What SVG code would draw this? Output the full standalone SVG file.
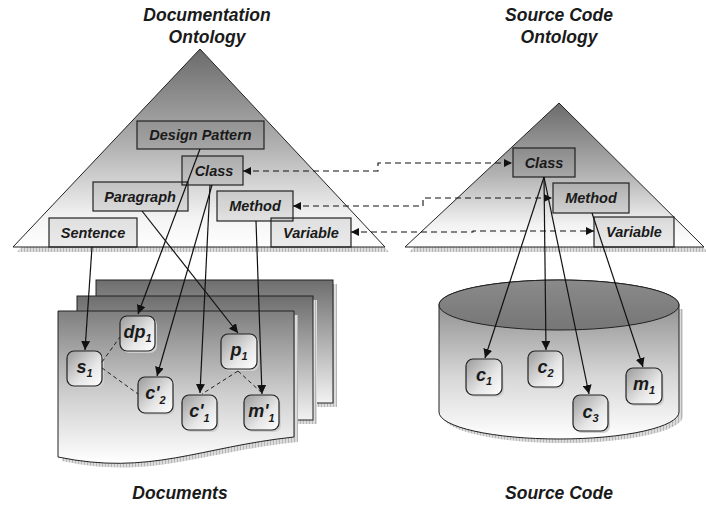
<svg xmlns="http://www.w3.org/2000/svg" width="706" height="505" viewBox="0 0 706 505">
<defs>
  <linearGradient id="triGrad" x1="0" y1="0" x2="0" y2="1">
    <stop offset="0" stop-color="#6b6b6b"/>
    <stop offset="0.5" stop-color="#b3b3b3"/>
    <stop offset="0.85" stop-color="#f3f3f3"/>
    <stop offset="1" stop-color="#ffffff"/>
  </linearGradient>
  <linearGradient id="pageGrad" x1="0" y1="0" x2="0" y2="1">
    <stop offset="0" stop-color="#6e6e6e"/>
    <stop offset="1" stop-color="#f2f2f2"/>
  </linearGradient>
  <linearGradient id="frontGrad" x1="0" y1="0" x2="0" y2="1">
    <stop offset="0" stop-color="#7f7f7f"/>
    <stop offset="0.55" stop-color="#cfcfcf"/>
    <stop offset="1" stop-color="#ffffff"/>
  </linearGradient>
  <linearGradient id="cylGrad" x1="0" y1="0" x2="0" y2="1">
    <stop offset="0" stop-color="#7a7a7a"/>
    <stop offset="0.6" stop-color="#d6d6d6"/>
    <stop offset="1" stop-color="#ffffff"/>
  </linearGradient>
  <linearGradient id="topGrad" x1="0" y1="0" x2="0" y2="1">
    <stop offset="0" stop-color="#8a8a8a"/>
    <stop offset="1" stop-color="#767676"/>
  </linearGradient>
  <linearGradient id="nodeGrad" x1="0" y1="0" x2="1" y2="1">
    <stop offset="0" stop-color="#9a9a9a"/>
    <stop offset="0.6" stop-color="#e6e6e6"/>
    <stop offset="1" stop-color="#ffffff"/>
  </linearGradient>
  <pattern id="hatch" width="3" height="3" patternUnits="userSpaceOnUse">
    <rect width="3" height="3" fill="#dcdcdc"/>
    <line x1="0.5" y1="0" x2="0.5" y2="3" stroke="#b5b5b5" stroke-width="1"/>
  </pattern>
  <marker id="arr" viewBox="0 0 10 10" refX="10" refY="5" markerWidth="9" markerHeight="9" markerUnits="userSpaceOnUse" orient="auto-start-reverse">
    <path d="M0,0 L10,5 L0,10 Z" fill="#111"/>
  </marker>
  <marker id="arrS" viewBox="0 0 10 10" refX="10" refY="5" markerWidth="8" markerHeight="8" markerUnits="userSpaceOnUse" orient="auto-start-reverse">
    <path d="M0,0 L10,5 L0,10 Z" fill="#111"/>
  </marker>
</defs>
<style>
  .tri { fill: url(#triGrad); stroke: #222; stroke-width: 1; }
  .shadow { fill: url(#hatch); stroke: none; }
  .box { fill: #000; fill-opacity: 0.08; stroke: #222; stroke-width: 1.2; }
  .lbl { font-family: "Liberation Sans", Arial, sans-serif; font-weight: bold; font-style: italic; font-size: 14.5px; fill: #1a1a1a; text-anchor: middle; }
  .title { font-family: "Liberation Sans", Arial, sans-serif; font-weight: bold; font-style: italic; font-size: 17.5px; fill: #1a1a1a; text-anchor: middle; }
  .node { fill: url(#nodeGrad); stroke: #222; stroke-width: 1.2; }
  .nshadow { fill: #cfcfcf; }
  .nlbl { font-family: "Liberation Sans", Arial, sans-serif; font-weight: bold; font-style: italic; font-size: 18px; fill: #1a1a1a; text-anchor: middle; }
  .sub { font-size: 11px; }
  .page { stroke: #222; stroke-width: 1; }
  .solid { fill: none; stroke: #111; stroke-width: 1.2; marker-end: url(#arr); }
  .dash2 { fill: none; stroke: #111; stroke-width: 1.1; stroke-dasharray: 6 4; marker-start: url(#arrS); marker-end: url(#arrS); }
  .link { fill: none; stroke: #222; stroke-width: 1; stroke-dasharray: 4 3; }
</style>

<!-- Titles -->
<g id="titles">
  <text class="title" x="207" y="21">Documentation</text>
  <text class="title" x="207" y="43">Ontology</text>
  <text class="title" x="559" y="21">Source Code</text>
  <text class="title" x="559" y="43">Ontology</text>
  <text class="title" x="180" y="499">Documents</text>
  <text class="title" x="559" y="499">Source Code</text>
</g>

<!-- Documentation ontology -->
<g id="doc-ontology">
  <polygon class="shadow" points="204,54 17,252 389,252"/>
  <polygon class="tri" points="200,49 13,247 385,247"/>
  <g id="doc-designpattern"><rect class="box" x="137" y="121" width="127" height="28"/><text class="lbl" x="200.5" y="140">Design Pattern</text></g>
  <g id="doc-class"><rect class="box" x="182" y="156" width="61" height="29"/><text class="lbl" x="214" y="176">Class</text></g>
  <g id="doc-paragraph"><rect class="box" x="93" y="182" width="95" height="29"/><text class="lbl" x="140" y="202">Paragraph</text></g>
  <g id="doc-method"><rect class="box" x="217" y="191" width="76" height="30"/><text class="lbl" x="255" y="211">Method</text></g>
  <g id="doc-sentence"><rect class="box" x="49" y="218" width="88" height="29"/><text class="lbl" x="93" y="238">Sentence</text></g>
  <g id="doc-variable"><rect class="box" x="271" y="218" width="80" height="29"/><text class="lbl" x="311" y="238">Variable</text></g>
</g>

<!-- Source code ontology -->
<g id="src-ontology">
  <polygon class="shadow" points="563,108 409,252 708,252"/>
  <polygon class="tri" points="559,103 405,247 704,247"/>
  <g id="src-class"><rect class="box" x="513" y="148" width="62" height="29"/><text class="lbl" x="544" y="168">Class</text></g>
  <g id="src-method"><rect class="box" x="553" y="183" width="76" height="30"/><text class="lbl" x="591" y="203">Method</text></g>
  <g id="src-variable"><rect class="box" x="594" y="217" width="80" height="30"/><text class="lbl" x="634" y="237">Variable</text></g>
</g>

<!-- Documents -->
<g id="documents">
  <rect class="shadow" x="100" y="284" width="237" height="123"/>
  <rect class="page" x="96" y="280" width="237" height="123" fill="url(#pageGrad)"/>
  <rect class="shadow" x="81" y="300" width="236" height="124"/>
  <rect class="page" x="77" y="296" width="236" height="124" fill="url(#pageGrad)"/>
  <path class="shadow" d="M62,315 H298 V442 C200,452 150,480 62,461 Z"/>
  <path class="page" fill="url(#frontGrad)" d="M58,311 H294 V437 C200,447 150,476 58,457 Z"/>
</g>

<!-- Source code cylinder -->
<g id="source-code">
  <path class="shadow" d="M443,309 V416 A120,27 0 0 0 683,416 V309 Z"/>
  <path class="page" fill="url(#cylGrad)" d="M439,305 V412 A120,27 0 0 0 679,412 V305 A120,25 0 0 0 439,305 Z"/>
  <ellipse class="page" cx="559" cy="305" rx="120" ry="25" fill="url(#topGrad)"/>
</g>

<!-- Instance nodes -->
<g id="node-dp1"><rect class="nshadow" x="122" y="318" width="35" height="35" rx="7"/><rect class="node" x="120" y="316" width="35" height="35" rx="7"/><text class="nlbl" x="137.5" y="338">dp<tspan class="sub" dy="4">1</tspan></text></g>
<g id="node-s1"><rect class="nshadow" x="69" y="353" width="35" height="35" rx="7"/><rect class="node" x="67" y="351" width="35" height="35" rx="7"/><text class="nlbl" x="84.5" y="373">s<tspan class="sub" dy="4">1</tspan></text></g>
<g id="node-p1"><rect class="nshadow" x="223" y="336" width="36" height="35" rx="7"/><rect class="node" x="221" y="334" width="36" height="35" rx="7"/><text class="nlbl" x="239" y="356">p<tspan class="sub" dy="4">1</tspan></text></g>
<g id="node-c2p"><rect class="nshadow" x="140" y="379" width="35" height="36" rx="7"/><rect class="node" x="138" y="377" width="35" height="36" rx="7"/><text class="nlbl" x="155.5" y="399">c'<tspan class="sub" dy="5">2</tspan></text></g>
<g id="node-c1p"><rect class="nshadow" x="184" y="397" width="35" height="35" rx="7"/><rect class="node" x="182" y="395" width="35" height="35" rx="7"/><text class="nlbl" x="199.5" y="417">c'<tspan class="sub" dy="5">1</tspan></text></g>
<g id="node-m1p"><rect class="nshadow" x="246" y="397" width="35" height="35" rx="7"/><rect class="node" x="244" y="395" width="35" height="35" rx="7"/><text class="nlbl" x="261.5" y="417">m'<tspan class="sub" dy="5">1</tspan></text></g>
<g id="node-c1"><rect class="nshadow" x="468" y="361" width="36" height="36" rx="7"/><rect class="node" x="466" y="359" width="36" height="36" rx="7"/><text class="nlbl" x="484" y="381">c<tspan class="sub" dy="4">1</tspan></text></g>
<g id="node-c2"><rect class="nshadow" x="530" y="353" width="35" height="36" rx="7"/><rect class="node" x="528" y="351" width="35" height="36" rx="7"/><text class="nlbl" x="545.5" y="373">c<tspan class="sub" dy="4">2</tspan></text></g>
<g id="node-c3"><rect class="nshadow" x="575" y="397" width="35" height="36" rx="7"/><rect class="node" x="573" y="395" width="35" height="36" rx="7"/><text class="nlbl" x="590.5" y="418">c<tspan class="sub" dy="4">3</tspan></text></g>
<g id="node-m1"><rect class="nshadow" x="628" y="370" width="36" height="36" rx="7"/><rect class="node" x="626" y="368" width="36" height="36" rx="7"/><text class="nlbl" x="644" y="390">m<tspan class="sub" dy="4">1</tspan></text></g>

<!-- Connectors -->
<g id="connectors">
  <path class="dash2" d="M243,171 H378 V163 H512"/>
  <path class="dash2" d="M293,206 H423 V198 H552"/>
  <path class="dash2" d="M351,232 H473 V231 H594"/>
  <path class="solid" d="M92,247 L85,350"/>
  <path class="solid" d="M200,149 L138,314"/>
  <path class="solid" d="M212,185 L157,376"/>
  <path class="solid" d="M210,185 L200,393"/>
  <path class="solid" d="M142,211 L238,333"/>
  <path class="solid" d="M256,221 L262,394"/>
  <path class="solid" d="M544,177 L485,358"/>
  <path class="solid" d="M544,177 L546,350"/>
  <path class="solid" d="M544,177 L589,394"/>
  <path class="solid" d="M592,213 L643,367"/>
  <path class="link" d="M102,362 L120,337"/>
  <path class="link" d="M102,368 L138,394"/>
  <path class="link" d="M238,371 L202,394"/>
  <path class="link" d="M238,371 L262,393"/>
</g>
</svg>
